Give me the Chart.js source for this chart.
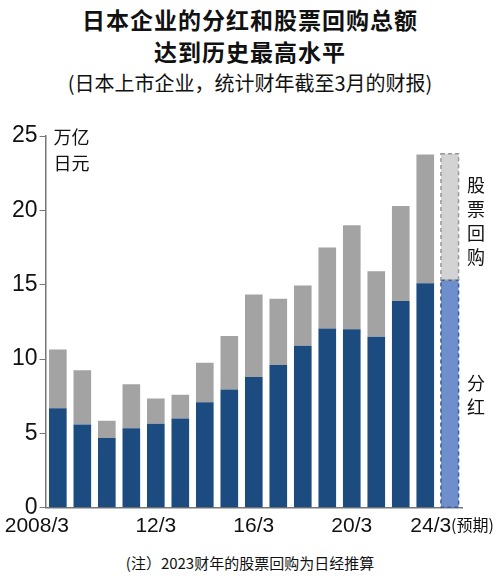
<!DOCTYPE html>
<html><head><meta charset="utf-8">
<script src="https://cdn.jsdelivr.net/npm/chart.js@4"></script>
<style>
body{margin:0;width:500px;height:584px;background:#fff;font-family:"Noto Sans CJK SC",sans-serif;position:relative;overflow:hidden}
.t{position:absolute;left:0;width:500px;text-align:center;color:#111}
#wrap{position:absolute;left:0;top:100px;width:500px;height:450px}
</style></head><body>
<div class="t" style="top:2px;font-size:23px;font-weight:bold;letter-spacing:1px">日本企业的分红和股票回购总额</div>
<div class="t" style="top:34px;font-size:23px;font-weight:bold;letter-spacing:1px">达到历史最高水平</div>
<div class="t" style="top:68px;font-size:20px">(日本上市企业，统计财年截至3月的财报)</div>
<div class="t" style="top:552px;font-size:15px">(注）2023财年的股票回购为日经推算</div>
<div id="wrap"><canvas id="c"></canvas></div>
<script>
const categories=["2008/3","09/3","10/3","11/3","12/3","13/3","14/3","15/3","16/3","17/3","18/3","19/3","20/3","21/3","22/3","23/3","24/3"];
const tickLabels=["2008/3","12/3","16/3","20/3","24/3"];
const dividends=[6.7,5.6,4.7,5.35,5.65,6.0,7.1,7.95,8.8,9.6,10.9,12.05,12.0,11.5,13.9,15.1,15.3];
const totals=[10.65,9.25,5.85,8.3,7.35,7.6,9.75,11.55,14.35,14.05,14.95,17.5,19.0,15.9,20.3,23.75,23.8];
const buybacks=totals.map((t,i)=>+(t-dividends[i]).toFixed(2));
const n=categories.length;
const divColors=categories.map((_,i)=>i===n-1?'#6e8fcb':'#1c4b80');
const bbColors=categories.map((_,i)=>i===n-1?'#d3d3d3':'#a3a3a3');
const extra={id:'extra',afterDatasetsDraw(ch){
 const ctx=ch.ctx;ctx.save();
 ctx.setLineDash([4,3]);ctx.lineWidth=1.5;
 [0,1].forEach(d=>{const e=ch.getDatasetMeta(d).data[n-1];
  ctx.strokeStyle=d===0?'#3a5f9a':'#999';
  const w=e.width;ctx.strokeRect(e.x-w/2,Math.min(e.y,e.base),w,Math.abs(e.base-e.y));});
 ctx.setLineDash([]);
 const a=ch.chartArea;ctx.fillStyle='#111';
 ctx.font='18px "Noto Sans CJK SC"';ctx.textAlign='left';ctx.textBaseline='middle';
 const ys=ch.scales.y,xs=ch.scales.x;
 ctx.fillText('万亿',a.left+8,ys.getPixelForValue(25)+1);
 ctx.fillText('日元',a.left+8,ys.getPixelForValue(25)+27);
 ctx.textAlign='center';
 const rx=476;
 ['股','票','回','购'].forEach((c,i)=>ctx.fillText(c,rx,ys.getPixelForValue(21.7)+i*24));
 ['分','红'].forEach((c,i)=>ctx.fillText(c,rx,ys.getPixelForValue(8.4)+i*24));
 ctx.font='21px "Liberation Sans Narrow", "Liberation Sans"';ctx.textBaseline='top';
 categories.forEach((c,i)=>{if(!tickLabels.includes(c))return;
  let x=xs.getPixelForValue(i); if(i===0)x-=21; if(i===n-1)x-=19;
  ctx.fillText(c,x,a.bottom+8);});
 ctx.font='16px "Noto Sans CJK SC"';ctx.textAlign='left';
 ctx.fillText('(预期)',451,a.bottom+9);
 ctx.restore();}};
new Chart(document.getElementById('c'),{type:'bar',
 data:{labels:categories,datasets:[
  {label:'分红',data:dividends,backgroundColor:divColors,stack:'s'},
  {label:'股票回购',data:buybacks,backgroundColor:bbColors,stack:'s'}]},
 options:{responsive:true,maintainAspectRatio:false,animation:false,
  layout:{padding:{left:10,right:38,top:36,bottom:3}},
  plugins:{legend:{display:false},tooltip:{enabled:false}},
  datasets:{bar:{categoryPercentage:1,barPercentage:0.72}},
  scales:{
   x:{stacked:true,border:{color:'#777',width:1.5},grid:{display:false},
    ticks:{autoSkip:false,maxRotation:0,color:'#111',font:{size:21},callback:()=>''}},
   y:{stacked:true,min:0,max:25,border:{color:'#777',width:1.5},
    grid:{drawOnChartArea:false,drawTicks:true,tickLength:6,color:'#777'},
    ticks:{stepSize:5,color:'#111',padding:2,font:{family:'"Liberation Sans Narrow", "Liberation Sans"',size:23}}}}},
 plugins:[extra]});
</script></body></html>
